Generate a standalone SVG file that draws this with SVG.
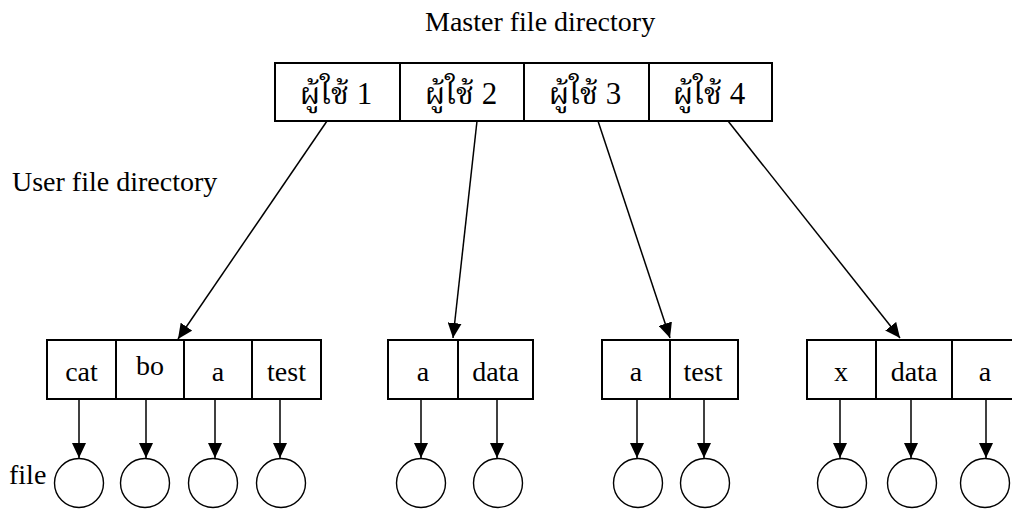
<svg xmlns="http://www.w3.org/2000/svg" width="1012" height="509" viewBox="0 0 1012 509">
<style>
.t{font-family:"Liberation Serif","Times New Roman",serif;font-size:28px;fill:#000}
.tc{text-anchor:middle}
.th{font-family:"Liberation Serif","Noto Serif Thai","Noto Sans Thai","Noto Sans",serif;font-size:31px;fill:#000;text-anchor:middle}
.box{fill:#fff;stroke:#000;stroke-width:2}
.cell{stroke:#000;stroke-width:2}
.circ{fill:#fff;stroke:#000;stroke-width:1.4}
.ln{stroke:#000;stroke-width:1.5;fill:none;marker-end:url(#ah)}
</style>
<defs>
<marker id="ah" viewBox="0 0 15 14" refX="15" refY="7" markerWidth="15" markerHeight="14" markerUnits="userSpaceOnUse" orient="auto">
<path d="M0,0 L15,7 L0,14 Z" fill="#000"/>
</marker>
</defs>
<rect width="1012" height="509" fill="#fff"/>
<g id="labels">
<text class="t" x="425" y="31">Master file directory</text>
<text class="t" x="12" y="191">User file directory</text>
<text class="t" x="9" y="484">file</text>
</g>
<g id="master">
<rect class="box" x="275" y="63" width="497" height="58"/>
<line class="cell" x1="400" y1="63" x2="400" y2="121"/>
<line class="cell" x1="524" y1="63" x2="524" y2="121"/>
<line class="cell" x1="649" y1="63" x2="649" y2="121"/>
<text class="th" x="336" y="104">ผู้ใช้ 1</text>
<text class="th" x="461" y="104">ผู้ใช้ 2</text>
<text class="th" x="585" y="104">ผู้ใช้ 3</text>
<text class="th" x="709" y="104">ผู้ใช้ 4</text>
</g>
<g id="ufd1">
<rect class="box" x="47" y="340" width="274" height="59"/>
<line class="cell" x1="116" y1="340" x2="116" y2="399"/>
<line class="cell" x1="184" y1="340" x2="184" y2="399"/>
<line class="cell" x1="252" y1="340" x2="252" y2="399"/>
<text class="t tc" x="81.5" y="381">cat</text>
<text class="t tc" x="150" y="375">bo</text>
<text class="t tc" x="218" y="381">a</text>
<text class="t tc" x="286.5" y="381">test</text>
</g>
<g id="ufd2">
<rect class="box" x="388" y="340" width="145" height="59"/>
<line class="cell" x1="458" y1="340" x2="458" y2="399"/>
<text class="t tc" x="423" y="381">a</text>
<text class="t tc" x="495.5" y="381">data</text>
</g>
<g id="ufd3">
<rect class="box" x="602" y="340" width="136" height="59"/>
<line class="cell" x1="670" y1="340" x2="670" y2="399"/>
<text class="t tc" x="636" y="381">a</text>
<text class="t tc" x="703" y="381">test</text>
</g>
<g id="ufd4">
<rect class="box" x="807" y="340" width="220" height="59"/>
<line class="cell" x1="876" y1="340" x2="876" y2="399"/>
<line class="cell" x1="952" y1="340" x2="952" y2="399"/>
<text class="t tc" x="841" y="381">x</text>
<text class="t tc" x="914" y="381">data</text>
<text class="t tc" x="985" y="381">a</text>
</g>
<g id="files">
<circle class="circ" cx="79" cy="483" r="24.5"/>
<circle class="circ" cx="145" cy="483" r="24.5"/>
<circle class="circ" cx="213" cy="483" r="24.5"/>
<circle class="circ" cx="281" cy="483" r="24.5"/>
<circle class="circ" cx="421" cy="483" r="24.5"/>
<circle class="circ" cx="498" cy="483" r="24.5"/>
<circle class="circ" cx="638" cy="483" r="24.5"/>
<circle class="circ" cx="705" cy="483" r="24.5"/>
<circle class="circ" cx="842" cy="483" r="24.5"/>
<circle class="circ" cx="912" cy="483" r="24.5"/>
<circle class="circ" cx="985" cy="483" r="24.5"/>
</g>
<g id="connectors">
<line class="ln" x1="327" y1="121" x2="178" y2="339"/>
<line class="ln" x1="477" y1="121" x2="453" y2="338"/>
<line class="ln" x1="598" y1="121" x2="670" y2="338"/>
<line class="ln" x1="728" y1="121" x2="900" y2="338"/>
<line class="ln" x1="79" y1="399" x2="79" y2="458"/>
<line class="ln" x1="146" y1="399" x2="146" y2="458"/>
<line class="ln" x1="215" y1="399" x2="215" y2="458"/>
<line class="ln" x1="280" y1="399" x2="280" y2="458"/>
<line class="ln" x1="421" y1="399" x2="421" y2="458"/>
<line class="ln" x1="497" y1="399" x2="497" y2="458"/>
<line class="ln" x1="637" y1="399" x2="637" y2="458"/>
<line class="ln" x1="704" y1="399" x2="704" y2="458"/>
<line class="ln" x1="840" y1="399" x2="840" y2="458"/>
<line class="ln" x1="911" y1="399" x2="911" y2="458"/>
<line class="ln" x1="986" y1="399" x2="986" y2="458"/>
</g>
</svg>
